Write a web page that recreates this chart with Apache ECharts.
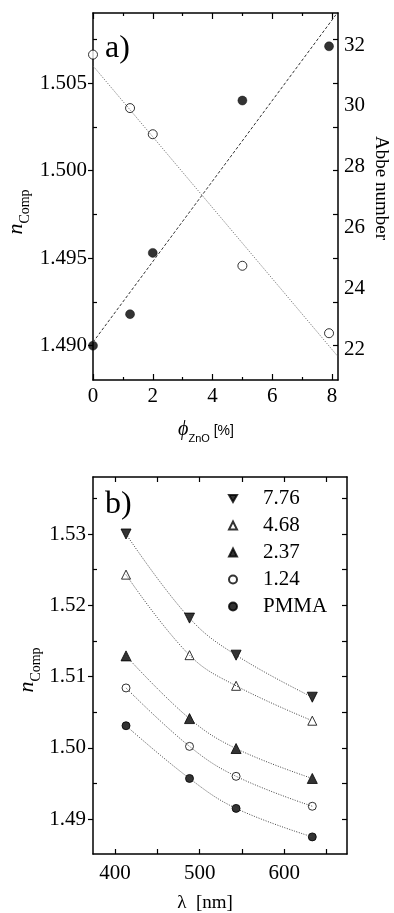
<!DOCTYPE html>
<html>
<head>
<meta charset="utf-8">
<script src="https://cdn.jsdelivr.net/npm/echarts@6/dist/echarts.min.js"></script>
<style>
html,body{margin:0;padding:0;background:#fff}
#main{width:394px;height:913px}
</style>
</head>
<body>
<div id="main"></div>
<script>
// panel a) : n and Abbe number vs ZnO volume fraction
var phiZnO = [0, 1.24, 2, 5, 7.9];
var nComp = [1.4900, 1.4918, 1.4953, 1.5040, 1.5071];
var abbe = [31.69, 29.93, 29.07, 24.74, 22.52];
var nFitX = [0, 8.13];
var nFitY = [1.4902, 1.5089];
var abbeFitX = [0, 8.2];
var abbeFitY = [31.32, 21.75];
var xTicksA = [0, 2, 4, 6, 8];
var xMinorA = [1, 3, 5, 7];
var yTicksA = [1.490, 1.495, 1.500, 1.505];
var yMinorA = [1.4925, 1.4975, 1.5025, 1.5075];
var yRightA = [1.490, 1.4925, 1.495, 1.4975, 1.500, 1.5025, 1.505, 1.5075];
var abbeTicks = [22, 24, 26, 28, 30, 32];

// panel b) : dispersion
var lambda = [413, 488, 543, 633];
var seriesNames = ['7.76', '4.68', '2.37', '1.24', 'PMMA'];
var n776 = [1.5300, 1.5182, 1.5130, 1.5071];
var n468 = [1.5243, 1.5130, 1.5087, 1.5038];
var n237 = [1.5129, 1.5041, 1.4999, 1.4957];
var n124 = [1.5084, 1.5002, 1.4960, 1.4918];
var nPMMA = [1.5031, 1.4957, 1.4915, 1.4875];
var xTicksB = [400, 450, 500, 550, 600, 650];
var xLabelsB = [400, 500, 600];
var yTicksB = [1.49, 1.50, 1.51, 1.52, 1.53];
var yMinorB = [1.495, 1.505, 1.515, 1.525, 1.535];
var yRightB = [1.49, 1.495, 1.50, 1.505, 1.51, 1.515, 1.52, 1.525, 1.53, 1.535];

var serif = 'Liberation Serif';
var sans = 'Liberation Sans';
var downTri = 'path://M0,0L2,0L1,1.732Z';

function pairs(xs, ys) {
	var out = [];
	for (var i = 0; i < xs.length; i++) out.push([xs[i], ys[i]]);
	return out;
}

function tickAxis(grid, pos, min, max, ticks, len, inside, showLine) {
	return {
		type: 'value', gridIndex: grid, position: pos, min: min, max: max,
		axisLine: {show: showLine, onZero: false, lineStyle: {color: '#000', width: 1.5}},
		axisTick: {show: true, inside: inside, length: len, customValues: ticks, lineStyle: {color: '#000', width: 1.2}},
		axisLabel: {show: false},
		splitLine: {show: false}
	};
}

function withLabels(axis, values, digits, margin) {
	axis.axisLabel = {
		show: true, customValues: values, margin: margin,
		color: '#000', fontFamily: serif, fontSize: 21,
		formatter: function (v) { return (+v).toFixed(digits); }
	};
	return axis;
}

var xAxes = [
	withLabels(tickAxis(0, 'bottom', 0, 8.2, xTicksA, 6, true, true), xTicksA, 0, 6),
	tickAxis(0, 'bottom', 0, 8.2, xMinorA, 3, true, false),
	tickAxis(0, 'top', 0, 8.2, xTicksA, 6, true, true),
	tickAxis(0, 'top', 0, 8.2, xMinorA, 3, true, false),
	withLabels(tickAxis(1, 'bottom', 374, 674, xTicksB, 5, true, true), xLabelsB, 0, 9),
	tickAxis(1, 'top', 374, 674, xTicksB, 5, true, true)
];

var abbeAxis = tickAxis(0, 'right', 20.98, 33.06, [], 0, true, false);
abbeAxis.axisTick.show = false;
withLabels(abbeAxis, abbeTicks, 0, 6);

var yAxes = [
	withLabels(tickAxis(0, 'left', 1.48804, 1.509, yTicksA, 5, false, true), yTicksA, 3, 6),
	tickAxis(0, 'left', 1.48804, 1.509, yMinorA, 4, true, false),
	tickAxis(0, 'right', 1.48804, 1.509, yRightA, 5, true, true),
	abbeAxis,
	withLabels(tickAxis(1, 'left', 1.4851, 1.538, yTicksB, 5, false, true), yTicksB, 2, 7),
	tickAxis(1, 'left', 1.4851, 1.538, yMinorB, 4, true, false),
	tickAxis(1, 'right', 1.4851, 1.538, yRightB, 5, true, true)
];

var series = [
	{type: 'line', xAxisIndex: 0, yAxisIndex: 0, data: pairs(nFitX, nFitY), symbol: 'none', silent: true,
		lineStyle: {color: '#333', width: 1, type: [3, 2]}},
	{type: 'line', xAxisIndex: 0, yAxisIndex: 3, data: pairs(abbeFitX, abbeFitY), symbol: 'none', silent: true,
		lineStyle: {color: '#666', width: 1, type: [1, 1.5]}},
	{type: 'scatter', xAxisIndex: 0, yAxisIndex: 0, data: pairs(phiZnO, nComp), symbol: 'circle', symbolSize: 9,
		itemStyle: {color: '#000', borderColor: '#000', borderWidth: 0.5}},
	{type: 'scatter', xAxisIndex: 0, yAxisIndex: 3, data: pairs(phiZnO, abbe), symbol: 'circle', symbolSize: 9,
		itemStyle: {color: '#fff', borderColor: '#000', borderWidth: 1}}
];

var bData = [n776, n468, n237, n124, nPMMA];
var bMarks = [
	{symbol: 'triangle', size: 10, rotate: 180, fill: '#000', icon: downTri},
	{symbol: 'triangle', size: 9, rotate: 0, fill: '#fff', icon: 'triangle'},
	{symbol: 'triangle', size: 10, rotate: 0, fill: '#000', icon: 'triangle'},
	{symbol: 'circle', size: 8, rotate: 0, fill: '#fff', icon: 'circle'},
	{symbol: 'circle', size: 8, rotate: 0, fill: '#000', icon: 'circle'}
];
bData.forEach(function (ys, i) {
	series.push({type: 'line', xAxisIndex: 4, yAxisIndex: 4, data: pairs(lambda, ys), symbol: 'none',
		smooth: 0.4, silent: true, lineStyle: {color: '#444', width: 1, type: [1, 1.5]}});
});
bData.forEach(function (ys, i) {
	var m = bMarks[i];
	series.push({type: 'scatter', name: seriesNames[i], xAxisIndex: 4, yAxisIndex: 4, data: pairs(lambda, ys),
		symbol: m.symbol, symbolSize: m.size, symbolRotate: m.rotate,
		itemStyle: {color: m.fill, borderColor: '#000', borderWidth: 1}});
});

var legendData = seriesNames.map(function (name, i) {
	return {name: name, icon: bMarks[i].icon};
});

var chart = echarts.init(document.getElementById('main'), null, {renderer: 'canvas'});
chart.setOption({
	animation: false,
	backgroundColor: '#fff',
	grid: [
		{left: 93, top: 13, width: 245, height: 367, outerBoundsMode: 'none', containLabel: false},
		{left: 93, top: 477, width: 254, height: 377, outerBoundsMode: 'none', containLabel: false}
	],
	xAxis: xAxes,
	yAxis: yAxes,
	legend: {
		data: legendData, orient: 'vertical', left: 228, top: 485, padding: 0,
		itemWidth: 8, itemHeight: 8, itemGap: 0, symbolKeepAspect: true,
		textStyle: {color: '#000', fontFamily: serif, fontSize: 21, lineHeight: 27, padding: [0, 0, 0, 21]}
	},
	series: series,
	graphic: [
		{type: 'text', x: 105, y: 49, style: {text: 'a)', font: '32px "Liberation Serif"', fill: '#000', verticalAlign: 'middle'}},
		{type: 'text', x: 105, y: 505, style: {text: 'b)', font: '32px "Liberation Serif"', fill: '#000', verticalAlign: 'middle'}},
		{type: 'text', x: 381, y: 188, rotation: -Math.PI / 2,
			style: {text: 'Abbe number', font: '19px "Liberation Serif"', fill: '#000', align: 'center', verticalAlign: 'middle'}},
		{type: 'text', x: 19, y: 212, rotation: Math.PI / 2,
			style: {text: '{n|n}{s|Comp}', align: 'center', verticalAlign: 'middle', fill: '#000',
				rich: {n: {fontFamily: serif, fontStyle: 'italic', fontSize: 22, verticalAlign: 'bottom', padding: [0, 0, 5, 0]},
					s: {fontFamily: serif, fontSize: 14, verticalAlign: 'bottom'}}}},
		{type: 'text', x: 30, y: 670, rotation: Math.PI / 2,
			style: {text: '{n|n}{s|Comp}', align: 'center', verticalAlign: 'middle', fill: '#000',
				rich: {n: {fontFamily: serif, fontStyle: 'italic', fontSize: 22, verticalAlign: 'bottom', padding: [0, 0, 5, 0]},
					s: {fontFamily: serif, fontSize: 14, verticalAlign: 'bottom'}}}},
		{type: 'text', x: 206, y: 432,
			style: {text: '{p|\u03d5}{z|ZnO}{b| [%]}', align: 'center', verticalAlign: 'middle', fill: '#000',
				rich: {p: {fontFamily: serif, fontStyle: 'italic', fontSize: 20, verticalAlign: 'bottom', padding: [0, 0, 5, 0]},
					z: {fontFamily: sans, fontSize: 11, verticalAlign: 'bottom'},
					b: {fontFamily: sans, fontSize: 14, verticalAlign: 'bottom', padding: [0, 0, 6, 0]}}}},
		{type: 'text', x: 205, y: 903,
			style: {text: '\u03bb  [nm]', font: '19px "Liberation Serif"', fill: '#000', align: 'center', verticalAlign: 'middle'}}
	]
});
</script>
</body>
</html>
